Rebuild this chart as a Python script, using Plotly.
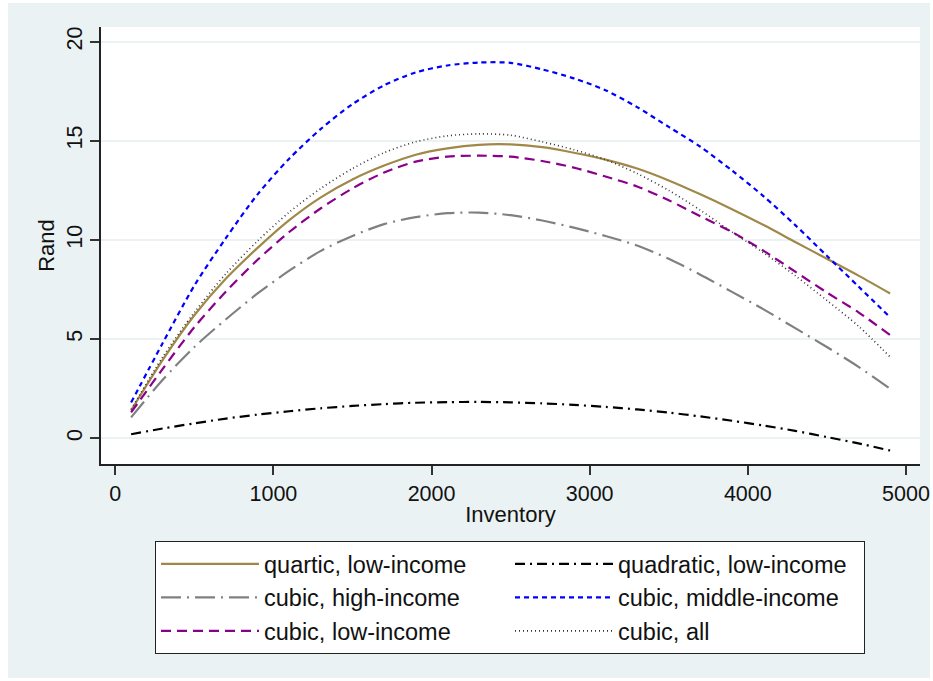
import plotly.graph_objects as go

# ---- data ----
inventory = [100, 300, 500, 700, 900, 1100, 1300, 1500, 1700, 1900, 2100, 2300, 2500,
             2700, 2900, 3100, 3300, 3500, 3700, 3900, 4100, 4300, 4500, 4700, 4900]

quartic_low = [1.4, 3.95, 6.2, 8.05, 9.6, 11.0, 12.15, 13.05, 13.75, 14.3, 14.62, 14.8, 14.82,
               14.68, 14.4, 14.05, 13.6, 13.0, 12.3, 11.55, 10.75, 9.9, 9.05, 8.2, 7.3]
quadratic_low = [0.2, 0.49, 0.75, 0.99, 1.19, 1.36, 1.51, 1.63, 1.72, 1.79, 1.82, 1.83, 1.81,
                 1.76, 1.68, 1.58, 1.45, 1.29, 1.10, 0.88, 0.64, 0.37, 0.06, -0.26, -0.62]
cubic_high = [1.05, 2.95, 4.6, 6.0, 7.3, 8.45, 9.45, 10.2, 10.8, 11.15, 11.35, 11.38, 11.25,
              10.98, 10.62, 10.2, 9.72, 9.05, 8.25, 7.38, 6.5, 5.55, 4.6, 3.6, 2.5]
cubic_middle = [1.8, 4.8, 7.7, 10.1, 12.3, 14.1, 15.6, 16.85, 17.8, 18.45, 18.8, 18.95, 18.93,
                18.6, 18.15, 17.55, 16.7, 15.7, 14.7, 13.5, 12.2, 10.75, 9.2, 7.65, 6.1]
cubic_low = [1.3, 3.5, 5.6, 7.4, 9.0, 10.4, 11.6, 12.6, 13.4, 13.95, 14.2, 14.25, 14.2,
             13.98, 13.65, 13.2, 12.7, 12.0, 11.2, 10.4, 9.45, 8.4, 7.35, 6.35, 5.2]
cubic_all = [1.45, 4.1, 6.35, 8.3, 9.95, 11.4, 12.6, 13.6, 14.4, 14.95, 15.25, 15.35, 15.28,
             14.95, 14.55, 14.05, 13.35, 12.5, 11.5, 10.4, 9.35, 8.2, 6.95, 5.65, 4.1]

x_ticks = [0, 1000, 2000, 3000, 4000, 5000]
y_ticks = [0, 5, 10, 15, 20]

series = [
    ("quartic, low-income", quartic_low, "#A08848", "solid", 2.2),
    ("quadratic, low-income", quadratic_low, "#000000", "10px,5px,2px,5px", 2.2),
    ("cubic, high-income", cubic_high, "#808080", "20px,6px,2px,6px", 2.2),
    ("cubic, middle-income", cubic_middle, "#0000FF", "5px,4px", 2.2),
    ("cubic, low-income", cubic_low, "#8B008B", "10px,6px", 2.2),
    ("cubic, all", cubic_all, "#333333", "1px,3px", 1.6),
]

FONT = "Arial, Liberation Sans, sans-serif"
BG = "#EAF2F3"

fig = go.Figure()
for name, ys, color, dash, w in series:
    fig.add_trace(go.Scatter(
        x=inventory, y=ys, mode="lines", name=name,
        line=dict(color=color, dash=dash, width=w, shape="spline", smoothing=0.8),
    ))

W, H = 933, 681
L, R, T, B = 101, 13, 27, 217
pw, ph = W - L - R, H - T - B

def px_x(p):
    return (p - L) / pw

def px_y(p):
    return (H - B - p) / ph

fig.update_layout(
    width=W, height=H,
    margin=dict(l=L, r=R, t=T, b=B, pad=0),
    paper_bgcolor="white",
    plot_bgcolor="white",
    font=dict(family=FONT, size=21, color="#111111"),
    shapes=[
        dict(type="rect", xref="paper", yref="paper", layer="below",
             x0=px_x(8), x1=px_x(930), y0=px_y(678), y1=px_y(3),
             fillcolor=BG, line=dict(width=0)),
        dict(type="rect", xref="paper", yref="paper", layer="below",
             x0=0, x1=1, y0=0, y1=1, fillcolor="white", line=dict(width=0)),
    ],
    xaxis=dict(
        range=[-90.4, 5089], tickvals=x_ticks, ticks="outside", ticklen=9,
        tickwidth=1.5, tickcolor="#333333", showline=True, linecolor="#222222",
        linewidth=1.5, showgrid=False, zeroline=False, automargin=False,
        title=dict(text="Inventory", font=dict(size=22), standoff=2),
        tickfont=dict(size=21.5),
    ),
    yaxis=dict(
        range=[-1.30, 20.74], tickvals=y_ticks, ticks="outside", ticklen=9,
        tickwidth=1.5, tickcolor="#333333", showline=True, linecolor="#222222",
        linewidth=1.5, showgrid=True, gridcolor=BG, gridwidth=2, zeroline=False,
        tickangle=-90, automargin=False,
        title=dict(text="Rand", font=dict(size=22), standoff=2),
        tickfont=dict(size=21.5),
    ),
    legend=dict(
        orientation="h", x=px_x(155), y=px_y(541), xanchor="left", yanchor="top",
        bgcolor="white", bordercolor="#222222", borderwidth=1,
        font=dict(size=23.5, family=FONT, color="#111111"),
        itemwidth=98, entrywidth=241, entrywidthmode="pixels",
        traceorder="normal",
    ),
)

fig.write_html("out.html")
